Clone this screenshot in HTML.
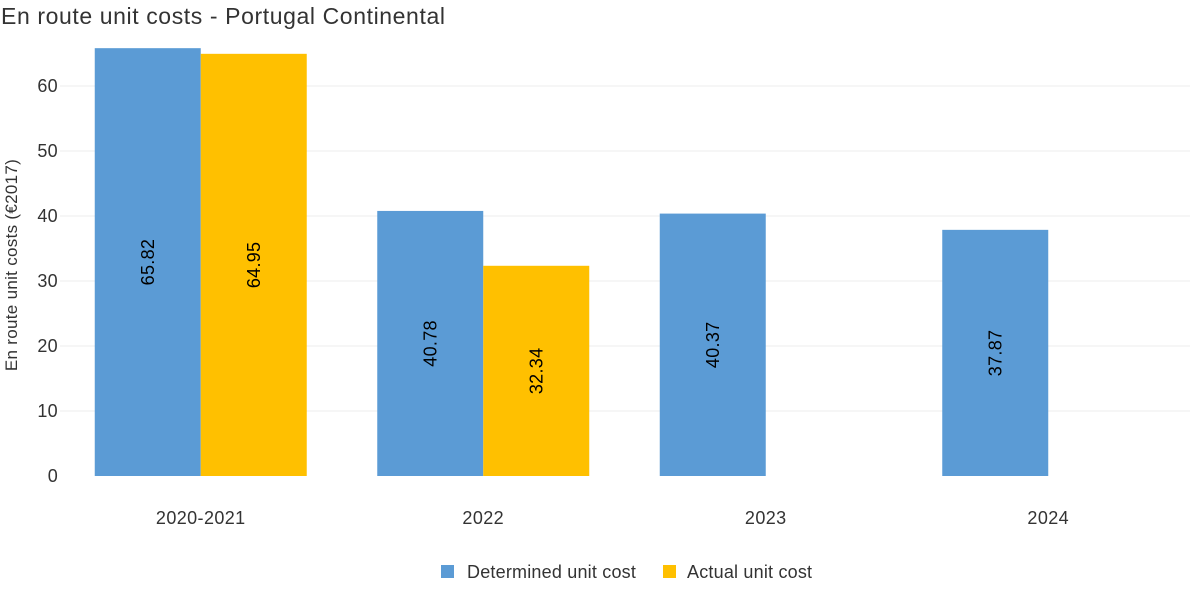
<!DOCTYPE html>
<html><head><meta charset="utf-8"><style>
html,body{margin:0;padding:0;background:#fff;width:1200px;height:600px;overflow:hidden}
text{font-family:"Liberation Sans",sans-serif}
</style></head><body>
<svg id="chart" width="1200" height="600">
<text x="1" y="24" font-size="23" letter-spacing="0.6" fill="#333">En route unit costs - Portugal Continental</text>
<text transform="translate(17,265) rotate(-90)" text-anchor="middle" font-size="17" letter-spacing="0.3" fill="#333">En route unit costs (€2017)</text>
<g id="grid"></g><g id="bars"></g><g id="xlabels"></g>
<g>
<rect x="441" y="565" width="13" height="13" fill="#5b9bd5"/>
<text x="467" y="578" font-size="18" letter-spacing="0.2" fill="#333">Determined unit cost</text>
<rect x="663" y="565" width="13" height="13" fill="#ffc000"/>
<text x="687" y="578" font-size="18" letter-spacing="0.2" fill="#333">Actual unit cost</text>
</g>
</svg>
<script>
const categories=["2020-2021","2022","2023","2024"];
const determined=[65.82,40.78,40.37,37.87];
const actual=[64.95,32.34,null,null];
const yTicks=[0,10,20,30,40,50,60];
const NS="http://www.w3.org/2000/svg";
const y0=476,pxPer=6.5,left=59.5,band=282.5,bw=106;
const y=v=>y0-v*pxPer;
const xc=i=>left+band*(i+0.5);
function mk(tag,attrs,parent){const e=document.createElementNS(NS,tag);for(const k in attrs)e.setAttribute(k,attrs[k]);document.getElementById(parent).appendChild(e);return e;}
yTicks.forEach(t=>{
 if(t>0){const l=mk("line",{x1:60,x2:1190,y1:y(t),y2:y(t),stroke:"#ececec","stroke-width":1},"grid");
 
 }
 const tx=mk("text",{x:58,y:y(t)+6,"text-anchor":"end","font-size":18,"letter-spacing":0.3,fill:"#333"},"grid");
 tx.textContent=t;
 
 
});
function bar(v,x,color,name){
 const r=mk("rect",{x:x,y:y(v),width:bw,height:y0-y(v),fill:color},"bars");
 
 
 const cx=x+bw/2,cy=y(v/2);
 const t=mk("text",{transform:`translate(${cx+6},${cy}) rotate(-90)`,"text-anchor":"middle","font-size":18,"letter-spacing":0.3,fill:"#000"},"bars");
 t.textContent=v.toFixed(2);
 
 
}
categories.forEach((c,i)=>{
 const cx=xc(i);
 bar(determined[i],cx-bw,"#5b9bd5","bar-determined");
 if(actual[i]!=null) bar(actual[i],cx,"#ffc000","bar-actual");
 const t=mk("text",{x:cx,y:524,"text-anchor":"middle","font-size":18,"letter-spacing":0.4,fill:"#333"},"xlabels");
 t.textContent=c;
 
 
});
</script>
</body></html>
